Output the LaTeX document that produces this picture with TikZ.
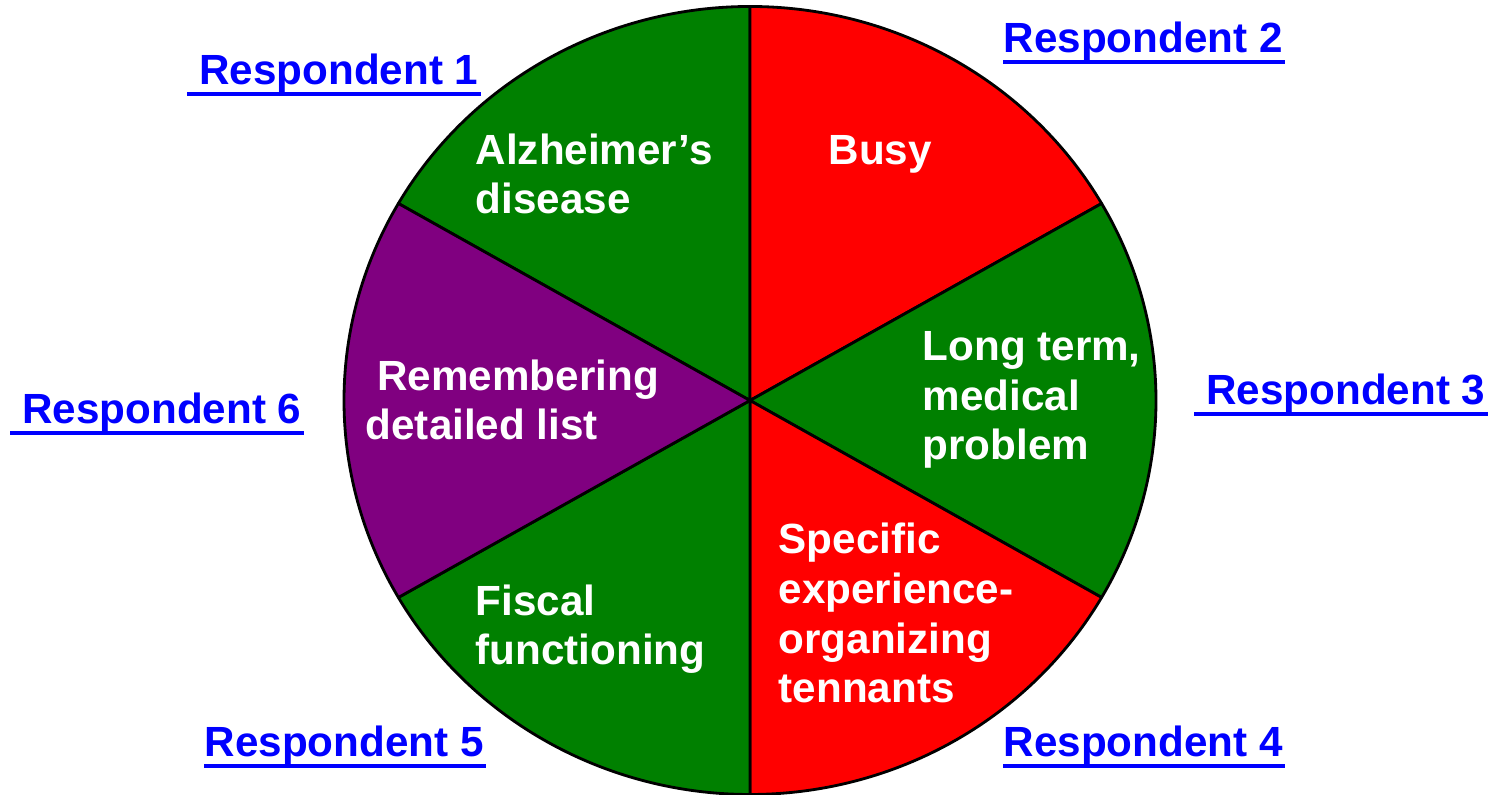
\documentclass[tikz,border=0pt]{standalone}
\usepackage{fontspec}
\setmainfont{Liberation Sans}
\usepackage{tikz}

\definecolor{pgreen}{RGB}{0,128,0}
\definecolor{pred}{RGB}{255,0,0}
\definecolor{ppurple}{RGB}{128,0,128}
\definecolor{pblue}{RGB}{0,0,255}

\tikzset{
  slice/.style={draw=black, line width=0.8pt, line join=round},
  inlabel/.style={anchor=base west, inner sep=0pt, align=left, text=white,
    font=\fontsize{12pt}{14.2pt}\selectfont\bfseries},
  resp/.style={anchor=base west, inner sep=0pt, text=pblue,
    font=\fontsize{12pt}{14.2pt}\selectfont\bfseries},
  uline/.style={draw=pblue, line width=1.1pt}
}

\begin{document}
\begin{tikzpicture}[x=0.01cm, y=0.01cm]
    \useasboundingbox (0,0) rectangle (1502,795);
    \coordinate (ctr) at (750,394.5);
    % sectors
    \foreach \a/\col in {90/pgreen, 30/pred, -30/pgreen, -90/pred, -150/pgreen, 150/ppurple}
        \filldraw[slice, fill=\col] (ctr) -- ([shift={(ctr)}]\a:406 and 394)
            arc[start angle=\a, delta angle=60, x radius=406, y radius=394] -- cycle;
    % sector texts (base = last line)
    \node[inlabel] (alz) at (475,581) {Alzheimer’s\\disease};
    \node[inlabel] (busy) at (828,630) {Busy};
    \node[inlabel] (long) at (922,335) {Long term,\\medical\\problem};
    \node[inlabel] (spec) at (778,92) {Specific\\experience-\\organizing\\tennants};
    \node[inlabel] (fisc) at (475,130) {Fiscal\\functioning};
    \node[inlabel] (rem) at (365,355) {\ Remembering\\detailed list};
    % respondents
    \node[resp] (r1) at (187,710) {\ Respondent 1};
    \node[resp] (r2) at (1003,742) {Respondent 2};
    \node[resp] (r3) at (1194,390) {\ Respondent 3};
    \node[resp] (r4) at (1003,38) {Respondent 4};
    \node[resp] (r5) at (204,38) {Respondent 5};
    \node[resp] (r6) at (10,371) {\ Respondent 6};
    % underlines
    \foreach \r in {r1,r2,r3,r4,r5,r6}
        \draw[uline] ([yshift=-0.09cm]\r.base west) -- ([yshift=-0.09cm,xshift=0.02cm]\r.base east);
\end{tikzpicture}
\end{document}
